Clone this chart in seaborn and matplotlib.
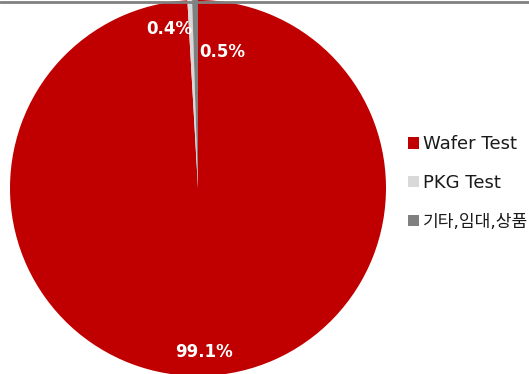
import matplotlib
matplotlib.use("Agg")
import matplotlib.pyplot as plt
import seaborn as sns
from matplotlib.lines import Line2D

sns.set_theme(style="white")
plt.rcParams['font.family'] = ['DejaVu Sans', 'Noto Sans CJK KR']

categories = ["Wafer Test", "PKG Test", "기타,임대,상품"]
shares = [99.1, 0.4, 0.5]
pct_labels = ["99.1%", "0.4%", "0.5%"]
colors = ["#C00000", "#D9D9D9", "#808080"]

fig = plt.figure(figsize=(5.29, 3.74), dpi=100)
ax = fig.add_axes([10 / 529, -2 / 374, 376 / 529, 376 / 374])

wedges, _ = ax.pie(shares, colors=colors, startangle=90, counterclock=False,
                   wedgeprops=dict(linewidth=0))
ax.set_aspect("equal")
ax.set_xlim(-1, 1)
ax.set_ylim(-1, 1)
ax.axis("off")

# percentage labels: the big slice sits inside its wedge, the two thin
# slices are pushed to either side of the top
label_pos = {0: (0.03, -0.87), 1: (-0.15, 0.845), 2: (0.13, 0.725)}
for i, w in enumerate(wedges):
    x, y = label_pos[i]
    ax.text(x, y, pct_labels[i], ha="center", va="center", color="white",
            fontsize=12, fontweight="heavy")

# thin rule along the top edge
fig.add_artist(Line2D([0, 1], [1 - 1.5 / 374, 1 - 1.5 / 374], transform=fig.transFigure,
                      color="#808080", linewidth=2))

handles = [plt.Rectangle((0, 0), 1, 1, facecolor=c, edgecolor="none") for c in colors]
leg = fig.legend(handles, categories, loc="center left",
                 bbox_to_anchor=(408 / 529, 1 - 183 / 374),
                 frameon=False, fontsize=13, handlelength=0.6, handleheight=0.6,
                 handletextpad=0.22, labelspacing=1.15, borderaxespad=0, borderpad=0)
for t in leg.get_texts():
    t.set_color("#1a1a1a")
leg.get_texts()[2].set_fontsize(12.3)

fig.savefig("out.png", dpi=100)
